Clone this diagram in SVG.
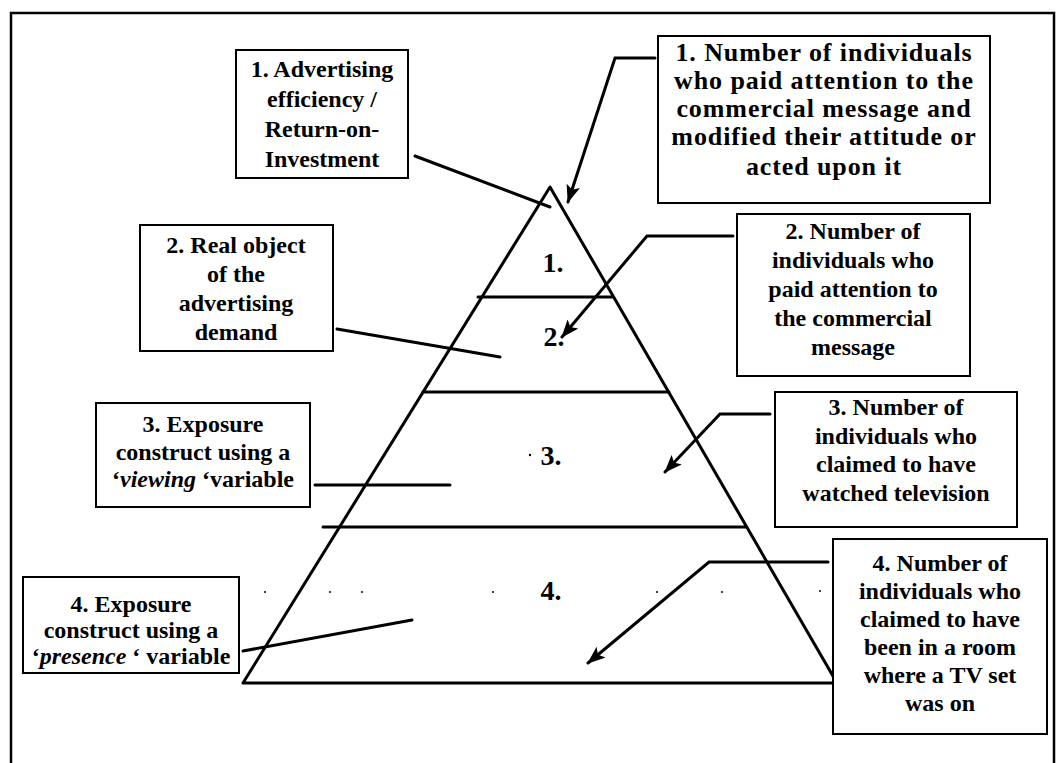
<svg xmlns="http://www.w3.org/2000/svg" width="1057" height="763" viewBox="0 0 1057 763">
  <style>
    .box { fill: #fff; stroke: #000; stroke-width: 2; }
    .lbl { font-family: "Liberation Serif", "Times New Roman", serif; font-size: 24px; font-weight: bold; fill: #000; text-anchor: middle; }
    .wide { font-size: 26px; letter-spacing: 0.9px; }
    .num { font-family: "Liberation Serif", "Times New Roman", serif; font-size: 28px; font-weight: bold; fill: #000; text-anchor: middle; }
    .edge { fill: none; stroke: #000; stroke-width: 3; stroke-linecap: round; stroke-linejoin: round; }
    .link { fill: none; stroke: #000; stroke-width: 3; stroke-linecap: round; stroke-linejoin: miter; }
    .dot { fill: #000; }
  </style>
  <defs>
    <marker id="head" markerUnits="userSpaceOnUse" markerWidth="18" markerHeight="14" refX="17" refY="7" orient="auto">
      <path d="M0,0 L18,7 L0,14 L4,7 z" fill="#000"/>
    </marker>
  </defs>

  <rect width="1057" height="763" fill="#fff"/>

  <!-- page frame -->
  <path d="M11,770 V13 H1054 V770" fill="none" stroke="#000" stroke-width="2.5"/>

  <!-- pyramid with its four levels -->
  <g id="pyramid">
    <path class="edge" d="M550,187 L243,683 L837,683 Z"/>
    <line class="edge" x1="478" y1="297" x2="612" y2="297"/>
    <line class="edge" x1="423" y1="392" x2="669" y2="392"/>
    <line class="edge" x1="323" y1="527" x2="746" y2="527"/>
    <text class="num" x="553" y="272">1.</text>
    <text class="num" x="554" y="346">2.</text>
    <text class="num" x="551" y="465">3.</text>
    <text class="num" x="551" y="600">4.</text>
    <!-- faint dotted trace across level 4 -->
    <circle class="dot" cx="530" cy="455" r="1.2"/>
    <circle class="dot" cx="265" cy="592" r="1"/>
    <circle class="dot" cx="330" cy="592" r="1"/>
    <circle class="dot" cx="362" cy="592" r="1"/>
    <circle class="dot" cx="493" cy="592" r="1"/>
    <circle class="dot" cx="657" cy="592" r="1"/>
    <circle class="dot" cx="722" cy="592" r="1"/>
    <circle class="dot" cx="820" cy="591" r="1"/>
    <circle class="dot" cx="853" cy="590" r="1"/>
    <circle class="dot" cx="195" cy="594" r="1"/>
  </g>

  <!-- connectors -->
  <g id="connectors">
    <line class="link" x1="415" y1="156" x2="550" y2="207"/>
    <polyline class="link" points="655,58 615,58 568,202" marker-end="url(#head)"/>
    <line class="link" x1="337" y1="329" x2="500" y2="357"/>
    <polyline class="link" points="733,236 647,236 562,337" marker-end="url(#head)"/>
    <line class="link" x1="315" y1="485" x2="450" y2="485"/>
    <polyline class="link" points="770,414 720,414 665,472" marker-end="url(#head)"/>
    <line class="link" x1="243" y1="651" x2="412" y2="620"/>
    <polyline class="link" points="828,562 709,562 588,663" marker-end="url(#head)"/>
  </g>

  <!-- left-hand labels -->
  <g id="roi-box">
    <rect class="box" x="236" y="50" width="172" height="128"/>
    <text class="lbl" x="322" y="77">1. Advertising</text>
    <text class="lbl" x="322" y="107">efficiency /</text>
    <text class="lbl" x="322" y="137">Return-on-</text>
    <text class="lbl" x="322" y="167">Investment</text>
  </g>

  <g id="demand-box">
    <rect class="box" x="140" y="225" width="193" height="126"/>
    <text class="lbl" x="236" y="253">2. Real object</text>
    <text class="lbl" x="236" y="282">of the</text>
    <text class="lbl" x="236" y="311">advertising</text>
    <text class="lbl" x="236" y="340">demand</text>
  </g>

  <g id="viewing-box">
    <rect class="box" x="96" y="403" width="214" height="104"/>
    <text class="lbl" x="203" y="432">3. Exposure</text>
    <text class="lbl" x="203" y="460">construct using a</text>
    <text class="lbl" x="203" y="487">‘<tspan font-style="italic">viewing</tspan> ‘variable</text>
  </g>

  <g id="presence-box">
    <rect class="box" x="23" y="577" width="216" height="96"/>
    <text class="lbl" x="131" y="612">4. Exposure</text>
    <text class="lbl" x="131" y="638">construct using a</text>
    <text class="lbl" x="131" y="664">‘<tspan font-style="italic">presence</tspan> ‘ variable</text>
  </g>

  <!-- right-hand labels -->
  <g id="acted-box">
    <rect class="box" x="658" y="36" width="332" height="167"/>
    <text class="lbl wide" x="824" y="61">1. Number of individuals</text>
    <text class="lbl wide" x="824" y="89">who paid attention to the</text>
    <text class="lbl wide" x="824" y="117">commercial message and</text>
    <text class="lbl wide" x="824" y="145">modified their attitude or</text>
    <text class="lbl wide" x="824" y="175">acted upon it</text>
  </g>

  <g id="attention-box">
    <rect class="box" x="737" y="214" width="233" height="162"/>
    <text class="lbl" x="853" y="239">2. Number of</text>
    <text class="lbl" x="853" y="268">individuals who</text>
    <text class="lbl" x="853" y="297">paid attention to</text>
    <text class="lbl" x="853" y="326">the commercial</text>
    <text class="lbl" x="853" y="355">message</text>
  </g>

  <g id="watched-box">
    <rect class="box" x="775" y="392" width="242" height="135"/>
    <text class="lbl" x="896" y="415">3. Number of</text>
    <text class="lbl" x="896" y="444">individuals who</text>
    <text class="lbl" x="896" y="472">claimed to have</text>
    <text class="lbl" x="896" y="501">watched television</text>
  </g>

  <g id="room-box">
    <rect class="box" x="833" y="539" width="214" height="195"/>
    <text class="lbl" x="940" y="571">4. Number of</text>
    <text class="lbl" x="940" y="599">individuals who</text>
    <text class="lbl" x="940" y="627">claimed to have</text>
    <text class="lbl" x="940" y="655">been in a room</text>
    <text class="lbl" x="940" y="683">where a TV set</text>
    <text class="lbl" x="940" y="711">was on</text>
  </g>
</svg>
